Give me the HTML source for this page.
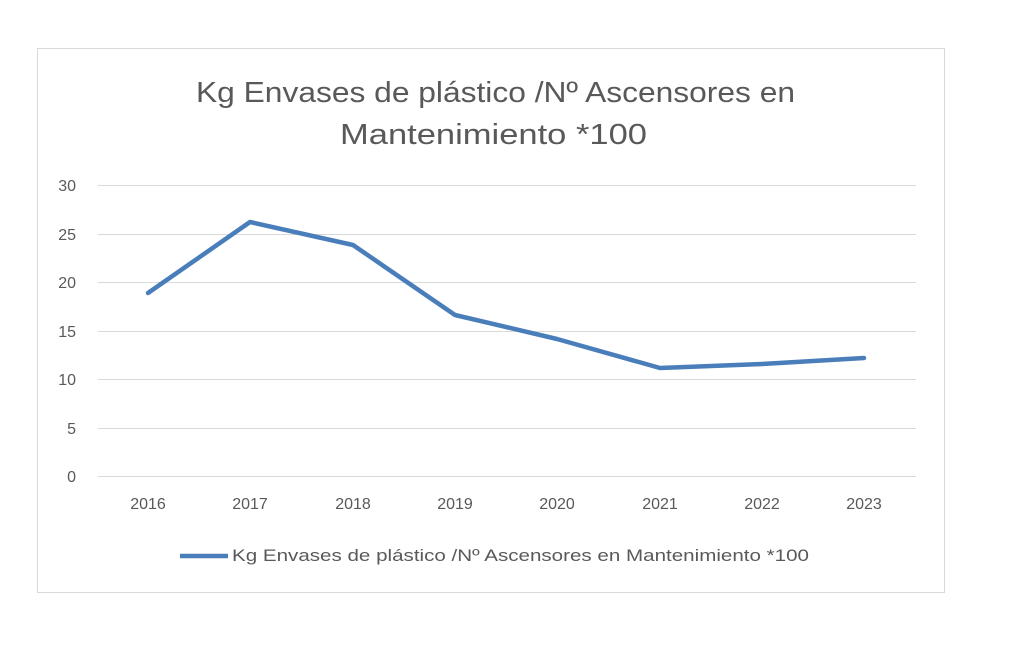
<!DOCTYPE html>
<html><head><meta charset="utf-8"><style>
html,body{margin:0;padding:0;background:#fff;}
svg{display:block;font-family:"Liberation Sans",sans-serif;}
</style></head><body>
<svg width="1024" height="647" viewBox="0 0 1024 647">
<rect x="37.5" y="48.5" width="907" height="544" fill="#fff" stroke="#d9d9d9" stroke-width="1"/>
<text x="196" y="102" textLength="599" lengthAdjust="spacingAndGlyphs" font-size="29" fill="#595959">Kg Envases de plástico /Nº Ascensores en</text>
<text x="340" y="144" textLength="307" lengthAdjust="spacingAndGlyphs" font-size="29" fill="#595959">Mantenimiento *100</text>
<g stroke="#d9d9d9" stroke-width="1">
<line x1="98" x2="916" y1="185.5" y2="185.5"/>
<line x1="98" x2="916" y1="234.5" y2="234.5"/>
<line x1="98" x2="916" y1="282.5" y2="282.5"/>
<line x1="98" x2="916" y1="331.5" y2="331.5"/>
<line x1="98" x2="916" y1="379.5" y2="379.5"/>
<line x1="98" x2="916" y1="428.5" y2="428.5"/>
<line x1="98" x2="916" y1="476.5" y2="476.5"/>
</g>
<g font-size="16" fill="#595959" text-anchor="end">
<text x="76" y="191">30</text>
<text x="76" y="240">25</text>
<text x="76" y="288">20</text>
<text x="76" y="337">15</text>
<text x="76" y="385">10</text>
<text x="76" y="434">5</text>
<text x="76" y="482">0</text>
</g>
<g font-size="16" fill="#595959" text-anchor="middle">
<text x="148" y="509">2016</text>
<text x="250" y="509">2017</text>
<text x="353" y="509">2018</text>
<text x="455" y="509">2019</text>
<text x="557" y="509">2020</text>
<text x="660" y="509">2021</text>
<text x="762" y="509">2022</text>
<text x="864" y="509">2023</text>
</g>
<polyline fill="none" stroke="#4a7ebb" stroke-width="4.5" stroke-linejoin="round" stroke-linecap="round"
points="148,293 250,222 353,245 455,315 557,339 660,368 762,364 864,358"/>
<line x1="180" x2="228" y1="556" y2="556" stroke="#4a7ebb" stroke-width="4.5"/>
<text x="232" y="561" textLength="577" lengthAdjust="spacingAndGlyphs" font-size="17" fill="#595959">Kg Envases de plástico /Nº Ascensores en Mantenimiento *100</text>
</svg>
</body></html>
